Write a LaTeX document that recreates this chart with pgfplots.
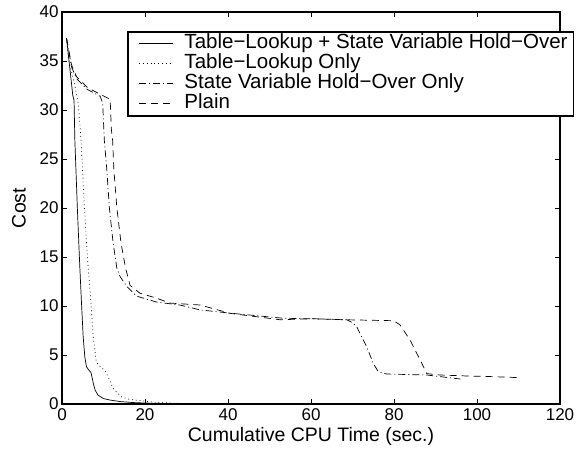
\documentclass[border=0pt]{standalone}
\usepackage{pgfplots}
\pgfplotsset{compat=1.18}
\usepackage{fontspec}
\setmainfont{Liberation Sans}
\begin{document}
\begin{tikzpicture}
\begin{axis}[
  scale only axis,
  width=498pt, height=392pt,
  xmin=0, xmax=120, ymin=0, ymax=40,
  xtick={0,20,40,60,80,100,120},
  ytick={0,5,10,15,20,25,30,35,40},
  tick align=inside,
  xtick pos=both, ytick pos=both,
  xticklabel pos=lower, yticklabel pos=left,
  major tick length=5pt,
  every tick/.style={line width=0.9pt, black},
  axis line style={line width=1.6pt},
  /pgf/number format/assume math mode=true,
  ticklabel style={font=\fontsize{17}{20}\selectfont},
  xticklabel style={inner sep=1pt, yshift=-3pt},
  label style={font=\fontsize{19.5}{24}\selectfont},
  xlabel={Cumulative CPU Time (sec.)},
  ylabel={Cost},
  xlabel style={at={(axis description cs:0.5,-0.0945)}, anchor=base, inner sep=1pt},
  ylabel style={at={(axis description cs:-0.0863,0.5)}, anchor=center},
  legend cell align=left,
  legend image code/.code={\path (0pt,0pt); \draw[#1] (5pt,0pt) -- (39pt,0pt);},
  legend style={at={(axis description cs:0.1305,0.9515)}, anchor=north west,
    draw=black, line width=1.6pt, font=\fontsize{20.5}{24}\selectfont,
    inner xsep=6pt, inner ysep=2pt, row sep=0pt,
    nodes={inner sep=0pt, text height=15pt, text depth=5pt},
    /tikz/every odd column/.append style={column sep=11pt}},
]
\addplot[black, line width=0.7pt] coordinates {
(1.1,37.3) (2.6,31.5) (2.9,31.0) (3.1,26.9) (3.7,20.0) (4.3,13.9) (4.7,10.3) (5.1,6.9) (5.5,4.8) (5.9,3.8) (6.4,3.5) (7.0,3.2) (7.3,2.6) (7.6,2.0) (8.0,1.4) (8.7,0.9) (10,0.55) (11.6,0.4) (14,0.25) (17,0.15) (20,0.1) (25,0.05) (30,0.02)
};
\addlegendentry{Table−Lookup + State Variable Hold−Over}
\addplot[black, line width=0.7pt, dash pattern=on 0.8pt off 3pt] coordinates {
(1.1,37.3) (1.5,35.3) (3.1,32.5) (3.9,30.7) (4.6,26.9) (5.4,20) (6.3,13.9) (7.0,10.3) (7.5,6.9) (8.2,4.5) (8.7,4.0) (9.6,3.7) (10.3,3.4) (11.1,2.8) (12.3,1.6) (14.4,0.7) (16.5,0.45) (18.8,0.35) (22,0.2) (26,0.1) (30,0.05)
};
\addlegendentry{Table−Lookup Only}
\addplot[black, line width=0.7pt, dash pattern=on 7pt off 3pt on 1pt off 3pt] coordinates {
(1.1,37.3) (2.3,34.4) (3.5,33.2) (6.1,32.1) (9.2,31.4) (9.8,30.7) (10.2,26.9) (10.8,23.9) (11.4,20.1) (12.3,16.5) (13.2,13.9) (14.0,13.0) (15.6,12.0) (18.0,11.0) (22.8,10.4) (28.4,10.1) (33.3,9.6) (41,9.25) (53.3,8.75) (60,8.7) (68.6,8.6) (70,8.3) (71,7.9) (73.4,5.85) (75,4.15) (76.2,3.3) (78.2,3.06) (87.9,2.96) (91,2.8) (96,2.55)
};
\addlegendentry{State Variable Hold−Over Only}
\addplot[black, line width=0.7pt, dash pattern=on 7pt off 5pt] coordinates {
(1.1,37.3) (2.3,34.6) (3.5,33.4) (6.1,32.3) (9.2,31.6) (11.6,31.1) (11.9,28) (12.2,26.9) (12.5,23.9) (13.2,20.1) (14.2,16.5) (15.3,13.9) (16.4,12.1) (18.8,11.3) (22.8,10.8) (26,10.3) (33.3,10.1) (40.5,9.25) (52.5,8.6) (60.5,8.7) (67.8,8.6) (79.8,8.5) (81.4,8.1) (83.9,6.5) (86.7,4.15) (87.9,3.1) (91,2.96) (97.5,2.86) (103.1,2.8) (109.6,2.7)
};
\addlegendentry{Plain}
\end{axis}
\path[use as bounding box] ([xshift=-62pt,yshift=-48pt]current axis.south west) rectangle ([xshift=17pt,yshift=12pt]current axis.north east);
\end{tikzpicture}
\end{document}
